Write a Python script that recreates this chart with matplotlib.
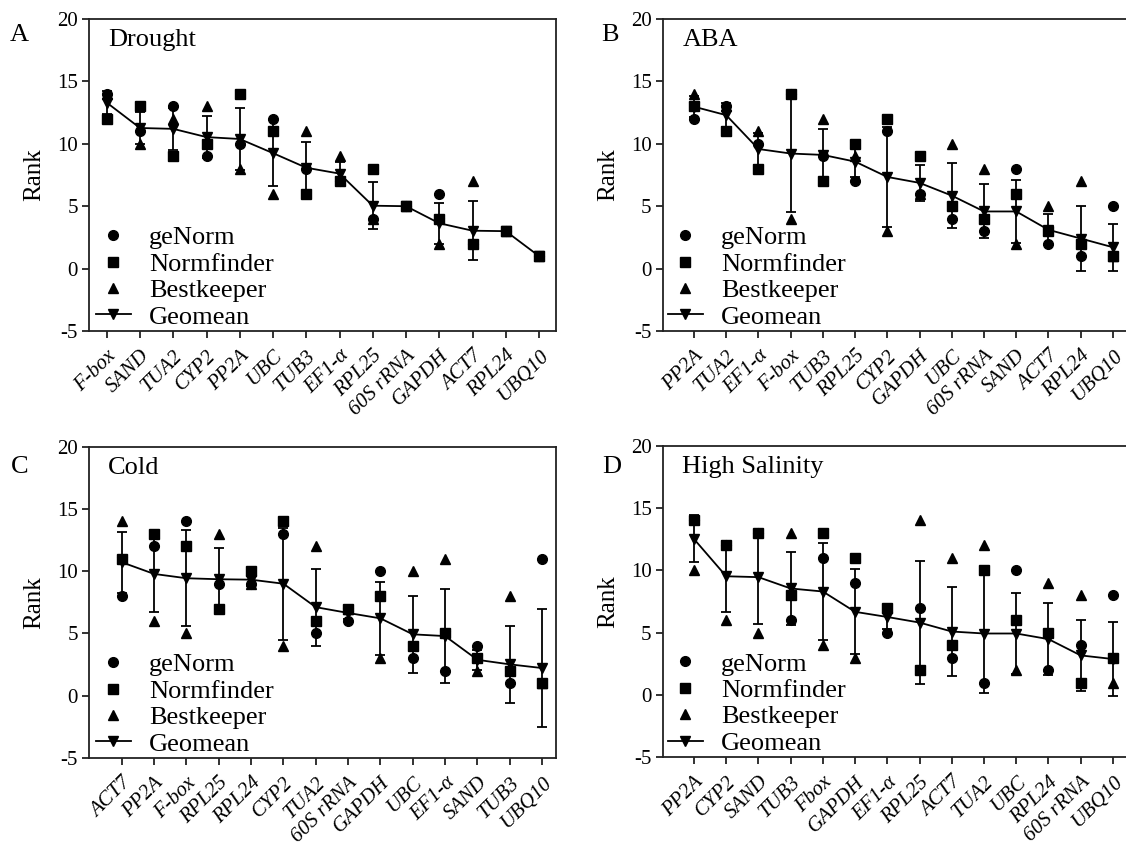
import numpy as np
import matplotlib
matplotlib.use('Agg')
import matplotlib.pyplot as plt
from matplotlib.lines import Line2D

# Times-like serif font for all text
plt.rcParams['font.family'] = ['Liberation Serif', 'DejaVu Serif']

# Ranks given by each method (one list per panel, in plotting order)
drought_genes = ['F-box', 'SAND', 'TUA2', 'CYP2', 'PP2A', 'UBC', 'TUB3', 'EF1-α',
                 'RPL25', '60S rRNA', 'GAPDH', 'ACT7', 'RPL24', 'UBQ10']
drought_genorm = [14, 11, 13, 9, 10, 12, 8, 7, 4, 5, 6, 2, 3, 1]
drought_normfinder = [12, 13, 9, 10, 14, 11, 6, 7, 8, 5, 4, 2, 3, 1]
drought_bestkeeper = [14, 10, 12, 13, 8, 6, 11, 9, 4, 5, 2, 7, 3, 1]

aba_genes = ['PP2A', 'TUA2', 'EF1-α', 'F-box', 'TUB3', 'RPL25', 'CYP2', 'GAPDH',
             'UBC', '60S rRNA', 'SAND', 'ACT7', 'RPL24', 'UBQ10']
aba_genorm = [12, 13, 10, 14, 9, 7, 11, 6, 4, 3, 8, 2, 1, 5]
aba_normfinder = [13, 11, 8, 14, 7, 10, 12, 9, 5, 4, 6, 3, 2, 1]
aba_bestkeeper = [14, 13, 11, 4, 12, 9, 3, 6, 10, 8, 2, 5, 7, 1]

cold_genes = ['ACT7', 'PP2A', 'F-box', 'RPL25', 'RPL24', 'CYP2', 'TUA2', '60S rRNA',
              'GAPDH', 'UBC', 'EF1-α', 'SAND', 'TUB3', 'UBQ10']
cold_genorm = [8, 12, 14, 9, 9, 13, 5, 6, 10, 3, 2, 4, 1, 11]
cold_normfinder = [11, 13, 12, 7, 10, 14, 6, 7, 8, 4, 5, 3, 2, 1]
cold_bestkeeper = [14, 6, 5, 13, 9, 4, 12, 7, 3, 10, 11, 2, 8, 1]

salt_genes = ['PP2A', 'CYP2', 'SAND', 'TUB3', 'Fbox', 'GAPDH', 'EF1-α', 'RPL25',
              'ACT7', 'TUA2', 'UBC', 'RPL24', '60S rRNA', 'UBQ10']
salt_genorm = [14, 12, 13, 6, 11, 9, 5, 7, 3, 1, 10, 2, 4, 8]
salt_normfinder = [14, 12, 13, 8, 13, 11, 7, 2, 4, 10, 6, 5, 1, 3]
salt_bestkeeper = [10, 6, 5, 13, 4, 3, 7, 14, 11, 12, 2, 9, 8, 1]

W, H = 1126, 851


def eixo_px(fig, esq, topo, dir, base):
    # axes placed by pixel box (left, top, right, bottom)
    return fig.add_axes([esq / W, 1 - base / H, (dir - esq) / W, (base - topo) / H])


def desenha_painel(ax, letra, titulo, genes, genorm, normfinder, bestkeeper, xlim, pos_letra, leg_x):
    x = np.arange(len(genes))
    ranks = np.array([genorm, normfinder, bestkeeper], dtype=float)
    # geometric mean of the three ranks, error bar = SD of the three ranks
    geomean = np.cbrt(ranks.prod(axis=0))
    sd = ranks.std(axis=0)

    ax.plot(x, genorm, 'o', color='black', ms=7, zorder=3)
    ax.plot(x, normfinder, 's', color='black', ms=6.5, zorder=3)
    ax.plot(x, bestkeeper, '^', color='black', ms=7, zorder=3)
    ax.errorbar(x, geomean, yerr=sd, fmt='-v', color='black', ms=7, lw=1.3,
                elinewidth=1.3, capsize=3.4, capthick=1.3, zorder=4)

    ax.set_xlim(*xlim)
    ax.set_ylim(-5, 20)
    ax.set_yticks([-5, 0, 5, 10, 15, 20])
    ax.set_yticklabels(['-5', '0', '5', '10', '15', '20'], fontsize=15)
    ax.set_xticks(x)
    ax.set_xticklabels(genes, rotation=45, ha='right', rotation_mode='anchor',
                       style='italic', fontsize=15)
    ax.tick_params(axis='both', direction='out', length=5, width=1.3, color='#222222', pad=3)
    ax.tick_params(axis='x', pad=6)
    for s in ax.spines.values():
        s.set_linewidth(1.3)
        s.set_color('#222222')
    ax.set_ylabel('Rank', fontsize=18, labelpad=8)

    ax.text(0.041, 0.933, titulo, transform=ax.transAxes, fontsize=19, va='center', ha='left')

    handles = [
        Line2D([], [], marker='o', color='black', ls='none', ms=7),
        Line2D([], [], marker='s', color='black', ls='none', ms=6.5),
        Line2D([], [], marker='^', color='black', ls='none', ms=7),
        Line2D([], [], marker='v', color='black', ls='-', lw=1.3, ms=7),
    ]
    ax.legend(handles, ['geNorm', 'Normfinder', 'Bestkeeper', 'Geomean'],
              loc='lower left', bbox_to_anchor=(leg_x, 0.008), frameon=False,
              fontsize=19, handlelength=1.33, handletextpad=0.68,
              labelspacing=0.11, borderpad=0.0, borderaxespad=0.0)

    ax.figure.text(pos_letra[0] / W, 1 - pos_letra[1] / H, letra, fontsize=19,
                   ha='center', va='center')


fig = plt.figure(figsize=(11.26, 8.51), dpi=100)

ax_a = eixo_px(fig, 88.8, 19, 556, 331)
ax_b = eixo_px(fig, 662.7, 19, 1140, 331)
ax_c = eixo_px(fig, 88.8, 446.7, 556, 758)
ax_d = eixo_px(fig, 662.7, 445.7, 1140, 757.3)

desenha_painel(ax_a, 'A', 'Drought', drought_genes, drought_genorm,
               drought_normfinder, drought_bestkeeper, (-0.54, 13.51), (19.5, 35), 0.015)
desenha_painel(ax_b, 'B', 'ABA', aba_genes, aba_genorm,
               aba_normfinder, aba_bestkeeper, (-0.97, 13.84), (610, 35), 0.011)
desenha_painel(ax_c, 'C', 'Cold', cold_genes, cold_genorm,
               cold_normfinder, cold_bestkeeper, (-1.02, 13.43), (20, 467), 0.015)
desenha_painel(ax_d, 'D', 'High Salinity', salt_genes, salt_genorm,
               salt_normfinder, salt_bestkeeper, (-0.97, 13.84), (612, 467), 0.011)

fig.savefig('out.png', dpi=100)
